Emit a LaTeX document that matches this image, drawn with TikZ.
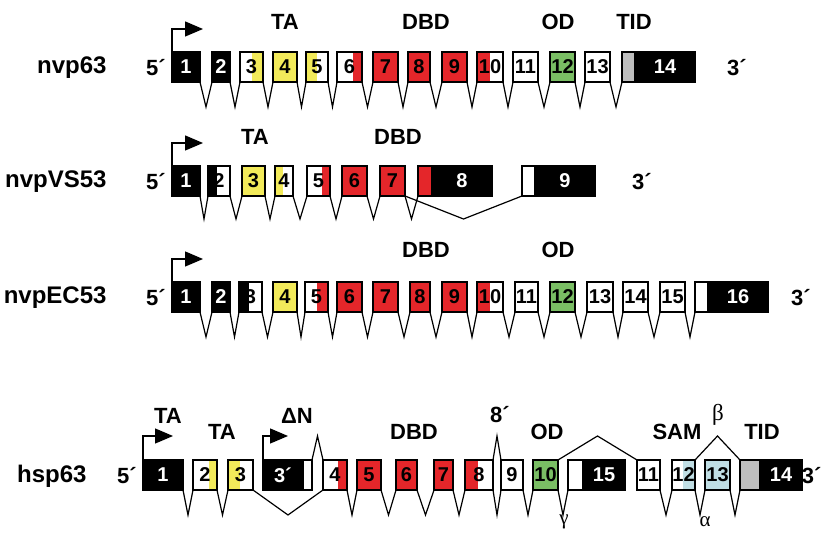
\documentclass[tikz,border=0pt]{standalone}
\usepackage{fontspec}
\setmainfont{Liberation Sans}
\newfontfamily\greekserif{Liberation Serif}
\usetikzlibrary{calc,arrows.meta}
\definecolor{exred}{RGB}{228,38,42}
\definecolor{exyel}{RGB}{242,234,90}
\definecolor{exgrn}{RGB}{122,190,100}
\definecolor{exgry}{RGB}{190,190,190}
\definecolor{exblu}{RGB}{192,222,228}
\tikzset{
 exon/.style={draw=black, line width=1.3pt, minimum height=30pt, inner sep=0pt, outer sep=0pt,
   font=\fontsize{20}{20}\selectfont\bfseries, fill=white},
 blk/.style={fill=black,text=white},
 intron/.style={line width=1.2pt, line join=miter},
 dom/.style={font=\fontsize{22}{22}\selectfont\bfseries},
 rowname/.style={font=\fontsize{24}{24}\selectfont\bfseries, anchor=east},
 endlab/.style={font=\fontsize{22}{22}\selectfont\bfseries},
 tss/.style={line width=1.3pt, -{Triangle[length=18pt,width=15pt]}},
 greeklab/.style={font=\fontsize{23}{23}\selectfont\greekserif},
 greeklow/.style={font=\fontsize{21}{21}\selectfont\greekserif, inner sep=1pt},
}
\newcommand\exonbox[6]{%
  \pgfmathsetmacro\exw{#3-#2}\pgfmathsetmacro\exc{(#2+#3)/2}%
  \node[exon,minimum width=\exw pt,#5] (#1) at (\exc,#4) {#6};}
\newcommand\exonsplit[8]{%
  \fill[#5] (#2,#4-15) rectangle (#6,#4+15);
  \fill[#7] (#6,#4-15) rectangle (#3,#4+15);
  \exonbox{#1}{#2}{#3}{#4}{fill=none}{#8}}
\newcommand\vin[3]{\draw[intron] (#1.south east) -- ($(#1.south east)!.5!(#2.south west)+(0,#3)$) -- (#2.south west);}
\newcommand\lin[3]{\draw[intron] (#1.north east) -- ($(#1.north east)!.5!(#2.north west)+(0,-#3)$) -- (#2.north west);}
\begin{document}
\begin{tikzpicture}[x=1pt,y=-1pt]
\useasboundingbox (0,0) rectangle (825,534);
% ---------------- row 1: nvp63
\node[rowname] (n1) at (110,68) {nvp63};
\node[endlab] (f1) at (156,68) {5´};
\node[endlab] (t1) at (737,68) {3´};
\exonbox{a1}{172}{200}{67}{blk}{1}
\exonbox{a2}{212}{230}{67}{blk}{2}
\exonsplit{a3}{240}{263}{67}{white}{252}{exyel}{3}
\exonbox{a4}{273}{297}{67}{fill=exyel}{4}
\exonsplit{a5}{306}{328}{67}{exyel}{317}{white}{5}
\exonsplit{a6}{337}{362}{67}{white}{353}{exred}{6}
\exonbox{a7}{373}{398}{67}{fill=exred}{7}
\exonbox{a8}{408}{430}{67}{fill=exred}{8}
\exonbox{a9}{442}{467}{67}{fill=exred}{9}
\exonsplit{a10}{477}{503}{67}{exred}{490}{white}{10}
\exonbox{a11}{513}{538}{67}{}{11}
\exonbox{a12}{550}{575}{67}{fill=exgrn}{12}
\exonbox{a13}{585}{610}{67}{}{13}
\exonbox{a14g}{622}{635}{67}{fill=exgry}{}
\exonbox{a14}{635}{695}{67}{blk}{14}
\foreach \p/\q in {a1/a2,a2/a3,a3/a4,a4/a5,a5/a6,a6/a7,a7/a8,a8/a9,a9/a10,a10/a11,a11/a12,a12/a13,a13/a14g}{\vin{\p}{\q}{25}}
\draw[tss] (a1.north west) |- ++(31,-23);
\node[dom] (ta1) at (285,22) {TA};
\node[dom] (dbd1) at (426,22) {DBD};
\node[dom] (od1) at (558,22) {OD};
\node[dom] (tid1) at (634,22) {TID};
% ---------------- row 2: nvpVS53
\node[rowname] (n2) at (110,182) {nvpVS53};
\node[endlab] (f2) at (156,182) {5´};
\node[endlab] (t2) at (642,182) {3´};
\exonbox{b1}{172}{200}{181}{blk}{1}
\exonsplit{b2}{208}{230}{181}{black}{217}{white}{2}
\exonbox{b3}{242}{265}{181}{fill=exyel}{3}
\exonsplit{b4}{275}{293}{181}{exyel}{283}{white}{4}
\exonsplit{b5}{307}{330}{181}{white}{322}{exred}{5}
\exonbox{b6}{342}{367}{181}{fill=exred}{6}
\exonbox{b7}{380}{405}{181}{fill=exred}{7}
\exonbox{b8r}{418}{432}{181}{fill=exred}{}
\exonbox{b8}{432}{492}{181}{blk}{8}
\exonbox{b9w}{522}{535}{181}{}{}
\exonbox{b9}{535}{595}{181}{blk}{9}
\foreach \p/\q in {b1/b2,b2/b3,b3/b4,b4/b5,b5/b6,b6/b7,b7/b8r}{\vin{\p}{\q}{23}}
\vin{b7}{b9w}{23}
\draw[tss] (b1.north west) |- ++(31,-23);
\node[dom] (ta2) at (255,137) {TA};
\node[dom] (dbd2) at (398,137) {DBD};
% ---------------- row 3: nvpEC53
\node[rowname] (n3) at (110,298) {nvpEC53};
\node[endlab] (f3) at (156,298) {5´};
\node[endlab] (t3) at (801,298) {3´};
\exonbox{c1}{172}{200}{297}{blk}{1}
\exonbox{c2}{212}{230}{297}{blk}{2}
\exonsplit{c3}{239}{262}{297}{black}{249}{white}{3}
\exonbox{c4}{273}{297}{297}{fill=exyel}{4}
\exonsplit{c5}{305}{328}{297}{white}{317}{exred}{5}
\exonbox{c6}{337}{362}{297}{fill=exred}{6}
\exonbox{c7}{373}{398}{297}{fill=exred}{7}
\exonbox{c8}{410}{430}{297}{fill=exred}{8}
\exonbox{c9}{442}{467}{297}{fill=exred}{9}
\exonsplit{c10}{477}{503}{297}{exred}{490}{white}{10}
\exonbox{c11}{515}{538}{297}{}{11}
\exonbox{c12}{550}{575}{297}{fill=exgrn}{12}
\exonbox{c13}{587}{613}{297}{}{13}
\exonbox{c14}{623}{648}{297}{}{14}
\exonbox{c15}{660}{685}{297}{}{15}
\exonbox{c16w}{695}{708}{297}{}{}
\exonbox{c16}{708}{768}{297}{blk}{16}
\foreach \p/\q in {c1/c2,c2/c3,c3/c4,c4/c5,c5/c6,c6/c7,c7/c8,c8/c9,c9/c10,c10/c11,c11/c12,c12/c13,c13/c14,c14/c15,c15/c16w}{\vin{\p}{\q}{25}}
\draw[tss] (c1.north west) |- ++(31,-23);
\node[dom] (dbd3) at (426,250) {DBD};
\node[dom] (od3) at (558,250) {OD};
% ---------------- row 4: hsp63
\node[rowname] (n4) at (90,476) {hsp63};
\node[endlab] (f4) at (127,476) {5´};
\node[endlab,anchor=east] (t4) at (825,476) {3´};
\exonbox{d1}{143}{183}{475}{blk}{1}
\exonsplit{d2}{193}{217}{475}{white}{209}{exyel}{2}
\exonsplit{d3}{228}{253}{475}{exyel}{240}{white}{3}
\exonbox{d3p}{263}{303}{475}{blk}{3´}
\exonbox{d3q}{303}{312}{475}{}{}
\exonsplit{d4}{323}{347}{475}{white}{338}{exred}{4}
\exonbox{d5}{357}{381}{475}{fill=exred}{5}
\exonbox{d6}{396}{417}{475}{fill=exred}{6}
\exonbox{d7}{434}{453}{475}{fill=exred}{7}
\exonsplit{d8}{465}{493}{475}{exred}{478}{white}{8}
\exonbox{d9}{501}{523}{475}{}{9}
\exonbox{d10}{533}{558}{475}{fill=exgrn}{10}
\exonbox{d15w}{568}{583}{475}{}{}
\exonbox{d15}{583}{625}{475}{blk}{15}
\exonbox{d11}{637}{660}{475}{}{11}
\exonsplit{d12}{672}{695}{475}{white}{683}{exblu}{12}
\exonbox{d13}{705}{730}{475}{fill=exblu}{13}
\exonbox{d14g}{740}{760}{475}{fill=exgry}{}
\exonbox{d14}{760}{802}{475}{blk}{14}
\foreach \p/\q in {d1/d2,d2/d3,d3/d4,d4/d5,d5/d6,d6/d7,d7/d8,d8/d9,d9/d10,d10/d15w,d11/d12,d12/d13,d13/d14g}{\vin{\p}{\q}{25}}
\foreach \p/\q in {d3q/d4,d8/d9,d10/d11,d12/d14g}{\lin{\p}{\q}{24}}
\draw[tss] (d1.north west) |- ++(30,-24);
\draw[tss] (d3p.north west) |- ++(25,-24);
\node[dom] (ta4a) at (168,416) {TA};
\node[dom] (ta4b) at (222,432) {TA};
\node[dom] (dn4) at (297,416) {ΔN};
\node[dom] (dbd4) at (414,432) {DBD};
\node[dom] (ep4) at (500,415) {8´};
\node[dom] (od4) at (547,432) {OD};
\node[dom] (sam4) at (677,432) {SAM};
\node[greeklab] (beta4) at (718,415) {β};
\node[dom] (tid4) at (762,432) {TID};
\node[greeklow] (gam4) at (564,522) {γ};
\node[greeklow] (alp4) at (705,522) {α};
\end{tikzpicture}
\end{document}
